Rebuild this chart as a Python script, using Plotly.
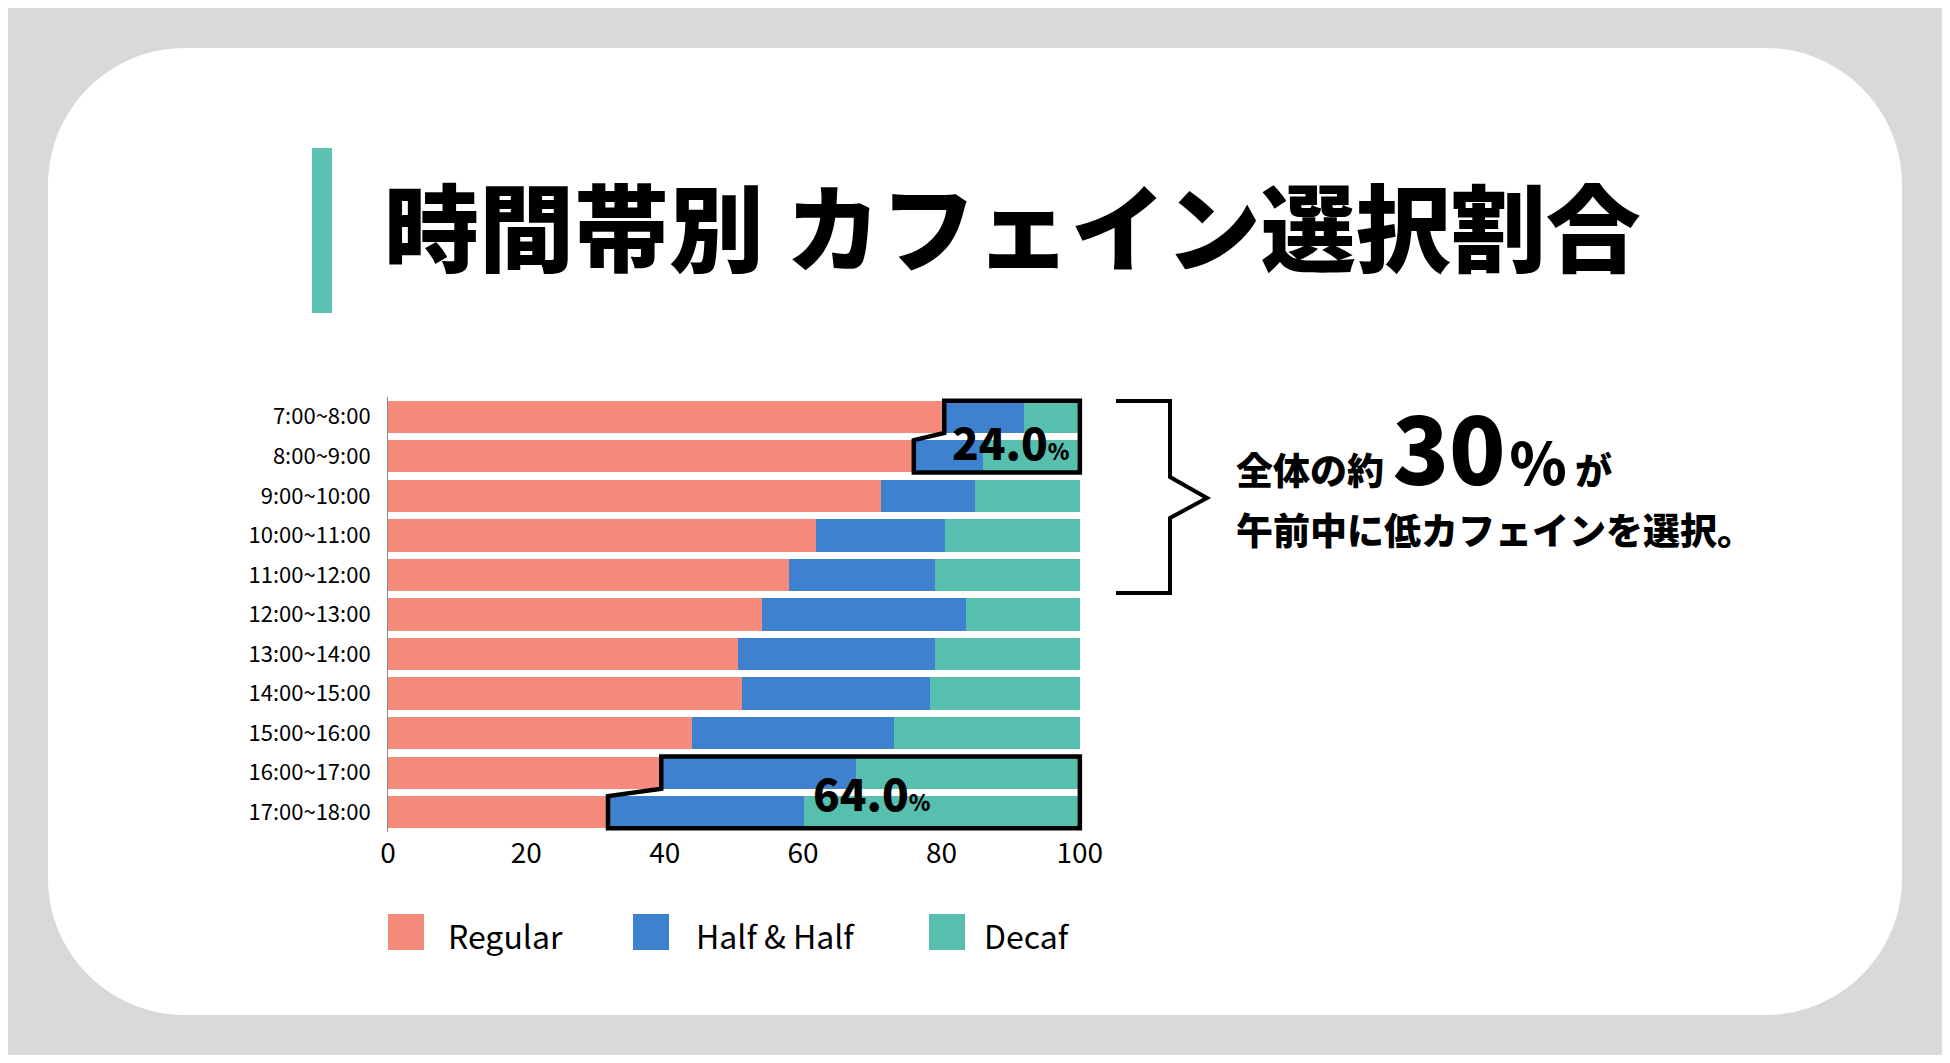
import plotly.graph_objects as go

# ---------------- data ----------------
slots = ["7:00~8:00", "8:00~9:00", "9:00~10:00", "10:00~11:00", "11:00~12:00",
         "12:00~13:00", "13:00~14:00", "14:00~15:00", "15:00~16:00",
         "16:00~17:00", "17:00~18:00"]
regular = [80.4, 76.0, 71.3, 61.9, 58.0, 54.1, 50.6, 51.1, 43.9, 39.5, 31.8]
half_half = [11.5, 10.0, 13.6, 18.6, 21.1, 29.5, 28.5, 27.3, 29.2, 28.1, 28.4]
decaf = [8.1, 14.0, 15.1, 19.5, 20.9, 16.4, 20.9, 21.6, 26.9, 32.4, 39.8]
series_names = ["Regular", "Half & Half", "Decaf"]
x_ticks = [0, 20, 40, 60, 80, 100]
callout_morning = "24.0"
callout_evening = "64.0"

# ---------------- style ----------------
C_REG = "#F58B7C"
C_HALF = "#3D81CF"
C_DECAF = "#57BFAE"
C_TEAL = "#5BC1B0"
FONT = "Noto Sans CJK JP"

W, H = 1934, 1047
L, R, T, B = 380, 858, 389, 223
PW, PH = W - L - R, H - T - B


def fx(px):
    return (px - L) / PW


def fy(py):
    return 1 - (py - T) / PH


fig = go.Figure()
for name, vals, col in zip(series_names, [regular, half_half, decaf], [C_REG, C_HALF, C_DECAF]):
    fig.add_trace(go.Bar(
        y=slots, x=vals, name=name, orientation="h",
        marker=dict(color=col, line=dict(width=0)),
        showlegend=False, hoverinfo="x+y+name",
    ))

shapes = []
# white rounded card
x0, y0, x1, y1, r = 40, 40, 1894, 1007, 137
k = 0.5523 * r
pts = [
    ("M", [(x0 + r, y0)]), ("L", [(x1 - r, y0)]),
    ("C", [(x1 - r + k, y0), (x1, y0 + r - k), (x1, y0 + r)]),
    ("L", [(x1, y1 - r)]),
    ("C", [(x1, y1 - r + k), (x1 - r + k, y1), (x1 - r, y1)]),
    ("L", [(x0 + r, y1)]),
    ("C", [(x0 + r - k, y1), (x0, y1 - r + k), (x0, y1 - r)]),
    ("L", [(x0, y0 + r)]),
    ("C", [(x0, y0 + r - k), (x0 + r - k, y0), (x0 + r, y0)]),
]
path = ""
for cmd, pp in pts:
    path += cmd + " " + " ".join(f"{fx(a):.5f},{fy(b):.5f}" for a, b in pp) + " "
path += "Z"
shapes.append(dict(type="path", xref="paper", yref="paper", path=path,
                   fillcolor="white", line=dict(width=0), layer="below"))

# teal title bar
shapes.append(dict(type="rect", xref="paper", yref="paper",
                   x0=fx(304), x1=fx(324), y0=fy(140), y1=fy(305),
                   fillcolor=C_TEAL, line=dict(width=0), layer="below"))

# callout outlines (data coords)
h = 0.408


def step_box(i):
    a, b = regular[i], regular[i + 1]
    return (f"M {a},{i - h} L 100,{i - h} L 100,{i + 1 + h} L {b},{i + 1 + h} "
            f"L {b},{i + 1 - h} L {a},{i + h} Z")


for i in (0, 9):
    shapes.append(dict(type="path", xref="x", yref="y", path=step_box(i),
                       line=dict(color="black", width=4.5), fillcolor="rgba(0,0,0,0)",
                       layer="above"))

# bracket
br = [(1108, 393), (1162, 393), (1162, 469), (1199, 490), (1162, 510), (1162, 585), (1108, 585)]
bpath = "M " + " L ".join(f"{fx(a):.5f},{fy(b):.5f}" for a, b in br)
shapes.append(dict(type="path", xref="paper", yref="paper", path=bpath,
                   line=dict(color="black", width=4), fillcolor="rgba(0,0,0,0)"))

# legend squares
leg_x = [380, 625, 921]
for lx, col in zip(leg_x, [C_REG, C_HALF, C_DECAF]):
    shapes.append(dict(type="rect", xref="paper", yref="paper",
                       x0=fx(lx), x1=fx(lx + 36), y0=fy(906), y1=fy(942),
                       fillcolor=col, line=dict(width=0)))

annotations = []
# title
annotations.append(dict(xref="paper", yref="paper", x=fx(374), y=fy(215),
                        xanchor="left", yanchor="middle", showarrow=False,
                        text="時間帯別 カフェイン選択割合",
                        font=dict(family=FONT, size=95, color="black", weight=900)))
# callout numbers
annotations.append(dict(xref="x", yref="y", x=90.0, y=0.6, xanchor="center", yanchor="middle",
                        showarrow=False,
                        text=f"<span style='font-size:44px'>{callout_morning}</span><span style='font-size:22px'>%</span>",
                        font=dict(family=FONT, size=44, color="black", weight=900)))
annotations.append(dict(xref="x", yref="y", x=69.9, y=9.48, xanchor="center", yanchor="middle",
                        showarrow=False,
                        text=f"<span style='font-size:44px'>{callout_evening}</span><span style='font-size:22px'>%</span>",
                        font=dict(family=FONT, size=44, color="black", weight=900)))
# side message
annotations.append(dict(xref="paper", yref="paper", x=fx(1226), y=fy(506), xanchor="left", yanchor="bottom",
                        showarrow=False,
                        text=("全体の約 <span style='font-size:93px'>30</span>"
                              "<span style='font-size:58px'>&#8202;%</span> が"),
                        font=dict(family=FONT, size=37, color="black", weight=900)))
annotations.append(dict(xref="paper", yref="paper", x=fx(1226), y=fy(521), xanchor="left", yanchor="middle",
                        showarrow=False, text="午前中に低カフェインを選択。",
                        font=dict(family=FONT, size=37, color="black", weight=900)))
# legend labels
leg_tx = [438, 686, 974]
for tx, name in zip(leg_tx, series_names):
    annotations.append(dict(xref="paper", yref="paper", x=fx(tx), y=fy(927), xanchor="left", yanchor="middle",
                            showarrow=False, text=name,
                            font=dict(family=FONT, size=32, color="black")))

fig.update_layout(
    width=W, height=H, margin=dict(l=L, r=R, t=T, b=B, pad=0),
    paper_bgcolor="#D9D9D9", plot_bgcolor="rgba(0,0,0,0)",
    barmode="stack", bargap=0.183,
    shapes=shapes, annotations=annotations,
    font=dict(family=FONT, color="black"),
    xaxis=dict(range=[0, 100.6], tickvals=x_ticks, showgrid=False, zeroline=False,
               showline=False, ticks="", tickfont=dict(family=FONT, size=28, color="black"),
               ticklabelstandoff=2, fixedrange=True),
    yaxis=dict(type="category", categoryorder="array", categoryarray=slots,
               range=[10.5, -0.5], showgrid=False, zeroline=False,
               showline=True, linecolor="#8A8A8A", linewidth=1, ticks="",
               tickfont=dict(family=FONT, size=22, color="black"),
               ticklabelstandoff=12, fixedrange=True),
)

fig.write_html("out.html")
